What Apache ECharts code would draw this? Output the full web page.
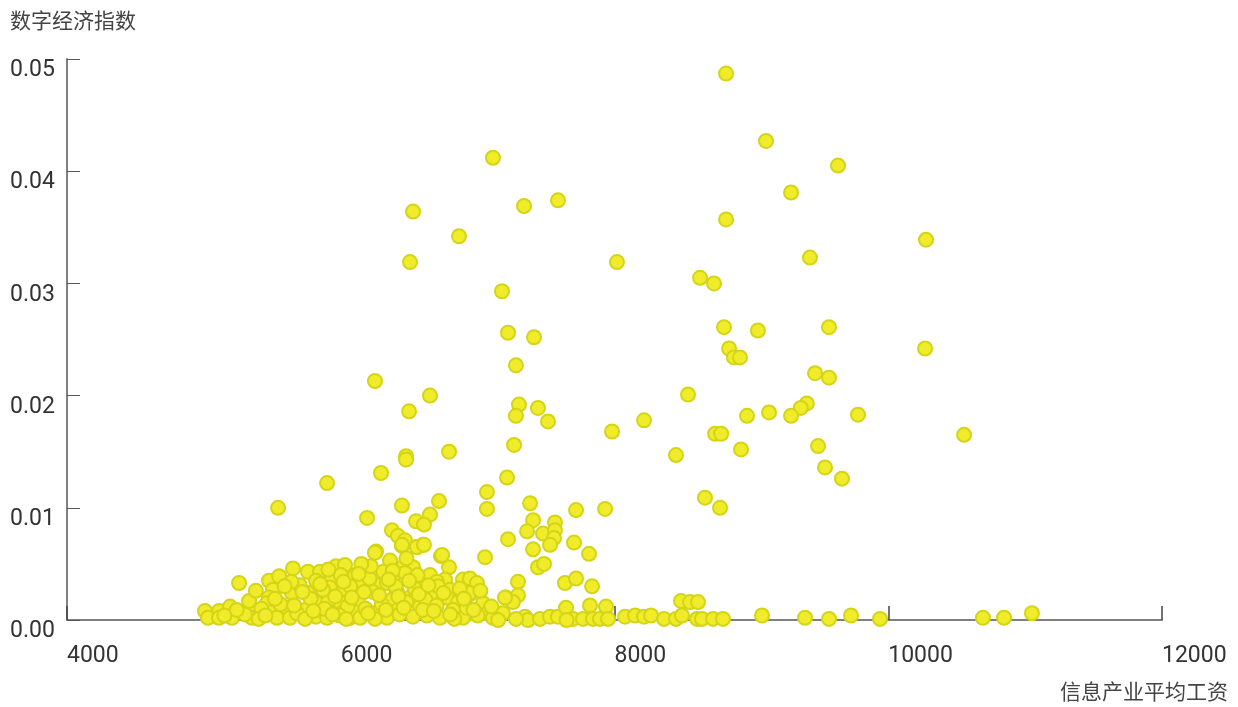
<!DOCTYPE html>
<html>
<head>
<meta charset="utf-8">
<script src="https://cdn.jsdelivr.net/npm/echarts@6/dist/echarts.min.js"></script>
<style>
  html, body { margin: 0; padding: 0; background: #fff; }
  #chart { width: 1238px; height: 707px; }
</style>
</head>
<body>
<div id="chart"></div>
<script>
// Axis titles
const yName = '数字经济指数';
const xName = '信息产业平均工资';

// Axis ticks
const xTicks = [4000, 6000, 8000, 10000, 12000];
const yTicks = [0, 0.01, 0.02, 0.03, 0.04, 0.05];

// Average wage in the information industry, one entry per observation
const wage = [
  8815, 9107, 9633, 7112, 9290, 7587, 7339, 6528, 8815, 6864,
  10276, 6506, 8018, 9428, 8625, 8727, 7178, 8800, 9567, 9048,
  7222, 7412, 8837, 10269, 8873, 8917, 7280, 9465, 9567, 6250,
  6652, 8537, 9405, 9361, 9290, 7302, 7441, 7280, 9129, 9779,
  8968, 6499, 8216, 7514, 7982, 10554, 8735, 8779, 7266, 9487,
  8924, 6791, 6477, 8449, 9538, 6294, 7215, 9662, 5900, 7068,
  8661, 6718, 7383, 8771, 5542, 6447, 7068, 7719, 7931,
  6192, 6652, 6550, 6608, 6374, 6418, 6469, 6447, 6557, 6601,
  6258, 6360, 6732, 6791, 7054, 6455, 6528, 6477,
  7405, 7565, 7361, 7478, 7565, 7558, 7529, 7222, 7405, 7704,
  7814, 7441, 7485, 7638, 7719, 7836, 7295, 7207, 7295, 7258,
  7185, 7346, 7368, 7456, 7529, 7587, 7646, 7697, 7770, 7821,
  7843, 7894, 7938, 7953, 8077, 8150, 8216, 8267, 8362, 8449,
  8493, 8486, 8552, 8610, 8603, 8639, 8720, 8793, 9078, 9392,
  9567, 9728, 9940, 10692, 10846, 11050,
  6944, 6849, 7039,
  5008, 5030, 5111, 5111, 5191, 5205, 5257, 5359, 5352, 5476,
  5505, 5476, 5461, 5483, 5534, 5651, 5644, 5607, 5629, 5761,
  5848, 5761, 5739, 5827, 5819, 5965, 6031, 5936, 6046, 5921,
  6009, 5907, 5995, 6090, 5921, 6016, 5900, 6068, 6104, 6104,
  6250, 6448, 6557, 6608, 6740, 6192, 6382, 6469, 6652, 6762,
  6893, 6944, 6995, 6141, 6265, 6338, 6557, 6703, 6236, 6411,
  6594, 6674, 6798, 6944, 6126, 6374, 6506, 6776, 6857, 7200,
  6119, 6265, 6418, 6579, 6652, 6820, 6944, 7069, 6141, 6338,
  6528, 6725, 6893, 7112,
  5300, 5420, 5560, 5680, 5700, 5780, 5870, 5880, 5960, 6050,
  6070, 6170, 6180, 6210, 6300, 6310, 6400, 6430, 6480, 6540,
  6620, 6630, 6700, 6710, 6870, 6920, 7000, 5550, 5640, 5820,
  6000, 6220, 6380, 6560, 6480, 6150, 5990, 6250, 6600, 6830,
  5400, 5740, 6040, 7150, 7280, 7650,
  5150, 5240, 5330, 5380, 5450, 5520, 5590, 5660, 5720, 5800,
  5850, 5910, 5940, 6020, 6080, 6130, 6200, 6280, 6330, 6350,
  6420, 6460, 6500, 6570, 6640, 6680, 6750, 6800, 6900, 6970,
  7020, 7100
];

// Digital economy index, same order as wage
const index = [
  0.0487, 0.0427, 0.0405, 0.0412, 0.0381, 0.0374, 0.0369, 0.0364, 0.0357, 0.0342,
  0.0339, 0.0319, 0.0319, 0.0323, 0.0305, 0.0300, 0.0293, 0.0261, 0.0261, 0.0258,
  0.0256, 0.0252, 0.0242, 0.0242, 0.0234, 0.0234, 0.0227, 0.0220, 0.0216, 0.0213,
  0.0200, 0.0201, 0.0193, 0.0189, 0.0182, 0.0192, 0.0189, 0.0182, 0.0185, 0.0183,
  0.0182, 0.0186, 0.0178, 0.0177, 0.0168, 0.0165, 0.0166, 0.0166, 0.0156, 0.0155,
  0.0152, 0.0150, 0.0146, 0.0147, 0.0136, 0.0131, 0.0127, 0.0126, 0.0122, 0.0114,
  0.0109, 0.0106, 0.0104, 0.0100, 0.0100, 0.0102, 0.0099, 0.0098, 0.0099,
  0.0091, 0.0094, 0.0088, 0.0085, 0.0080, 0.0075, 0.0071, 0.0066, 0.0065, 0.0067,
  0.0061, 0.0053, 0.0057, 0.0047, 0.0056, 0.0047, 0.0047, 0.0143,
  0.0089, 0.0087, 0.0079, 0.0077, 0.0080, 0.0073, 0.0067, 0.0072, 0.0063, 0.0069,
  0.0059, 0.0047, 0.0050, 0.0033, 0.0037, 0.0030, 0.0034, 0.0020, 0.0022, 0.0016,
  0.0006, 0.0003, 0.0000, 0.0001, 0.0003, 0.0003, 0.0011, 0.0001, 0.0001, 0.0013,
  0.0001, 0.0001, 0.0012, 0.0001, 0.0003, 0.0004, 0.0003, 0.0004, 0.0001, 0.0001,
  0.0004, 0.0017, 0.0016, 0.0016, 0.0001, 0.0001, 0.0001, 0.0001, 0.0004, 0.0002,
  0.0001, 0.0004, 0.0001, 0.0002, 0.0002, 0.0006,
  0.0023, 0.0015, 0.0015,
  0.0008, 0.0002, 0.0008, 0.0002, 0.0012, 0.0002, 0.0033, 0.0008, 0.0002, 0.0035,
  0.0027, 0.0020, 0.0015, 0.0007, 0.0002, 0.0046, 0.0024, 0.0011, 0.0002, 0.0043,
  0.0043, 0.0024, 0.0009, 0.0015, 0.0003, 0.0048, 0.0049, 0.0038, 0.0036, 0.0029,
  0.0024, 0.0016, 0.0016, 0.0016, 0.0007, 0.0007, 0.0002, 0.0002, 0.0040, 0.0027,
  0.0060, 0.0067, 0.0065, 0.0067, 0.0058, 0.0042, 0.0038, 0.0042, 0.0040, 0.0036,
  0.0036, 0.0037, 0.0033, 0.0033, 0.0031, 0.0033, 0.0034, 0.0034, 0.0025, 0.0025,
  0.0025, 0.0025, 0.0027, 0.0024, 0.0018, 0.0018, 0.0020, 0.0020, 0.0016, 0.0020,
  0.0007, 0.0007, 0.0009, 0.0012, 0.0007, 0.0009, 0.0006, 0.0006, 0.0002, 0.0002,
  0.0003, 0.0002, 0.0002, 0.0002,
  0.0005, 0.0010, 0.0014, 0.0006, 0.0031, 0.0019, 0.0027, 0.0010, 0.0021, 0.0012,
  0.0030, 0.0025, 0.0010, 0.0037, 0.0014, 0.0043, 0.0030, 0.0005, 0.0016, 0.0028,
  0.0018, 0.0004, 0.0013, 0.0030, 0.0028, 0.0011, 0.0004, 0.0039, 0.0034, 0.0035,
  0.0040, 0.0048, 0.0044, 0.0040, 0.0055, 0.0050, 0.0004, 0.0001, 0.0009, 0.0001,
  0.0001, 0.0001, 0.0001, 0.0000, 0.0001, 0.0000,
  0.0004, 0.0009, 0.0017, 0.0026, 0.0004, 0.0019, 0.0030, 0.0013, 0.0025, 0.0008,
  0.0032, 0.0045, 0.0005, 0.0034, 0.0020, 0.0041, 0.0006, 0.0022, 0.0009, 0.0036,
  0.0021, 0.0011, 0.0035, 0.0023, 0.0031, 0.0008, 0.0024, 0.0005, 0.0019, 0.0009,
  0.0026, 0.0012
];

const points = wage.map((w, i) => [w, index[i]]);

const numFont = 'Roboto, "DejaVu Sans", sans-serif';
const cjkFont = '"Noto Sans CJK SC", "Noto Sans", sans-serif';

const chart = echarts.init(document.getElementById('chart'), null, { renderer: 'canvas' });
chart.setOption({
  animation: false,
  backgroundColor: '#ffffff',
  title: [
    {
      text: yName, left: 10, top: 10, padding: 0,
      textStyle: { fontFamily: cjkFont, fontSize: 21, fontWeight: 'normal', color: '#444' }
    },
    {
      text: xName, right: 10, top: 681, padding: 0,
      textStyle: { fontFamily: cjkFont, fontSize: 21, fontWeight: 'normal', color: '#444' }
    }
  ],
  grid: { left: 67, right: 76, top: 59, bottom: 87, containLabel: false },
  xAxis: {
    type: 'value',
    min: xTicks[0],
    max: xTicks[xTicks.length - 1],
    interval: xTicks[1] - xTicks[0],
    splitLine: { show: false },
    axisLine: { show: true, lineStyle: { color: '#808080', width: 2 } },
    axisTick: { show: true, inside: true, length: 14, lineStyle: { color: '#444', width: 1.5 } },
    axisLabel: {
      align: 'left', margin: 25, fontSize: 23, color: '#333', fontFamily: numFont,
      showMinLabel: true, showMaxLabel: true,
      formatter: v => String(v)
    }
  },
  yAxis: {
    type: 'value',
    min: yTicks[0],
    max: yTicks[yTicks.length - 1],
    interval: yTicks[1] - yTicks[0],
    splitLine: { show: false },
    axisLine: { show: true, lineStyle: { color: '#808080', width: 2 } },
    axisTick: { show: true, inside: true, length: 13, lineStyle: { color: '#555', width: 1 } },
    axisLabel: {
      align: 'left', verticalAlign: 'top', margin: 57, fontSize: 23, color: '#333', fontFamily: numFont,
      formatter: v => v.toFixed(2)
    }
  },
  series: [{
    type: 'scatter',
    data: points,
    symbol: 'circle',
    symbolSize: 14,
    itemStyle: { color: '#f0ec2a', borderColor: '#d4d418', borderWidth: 2, opacity: 1 }
  }]
});
</script>
</body>
</html>
